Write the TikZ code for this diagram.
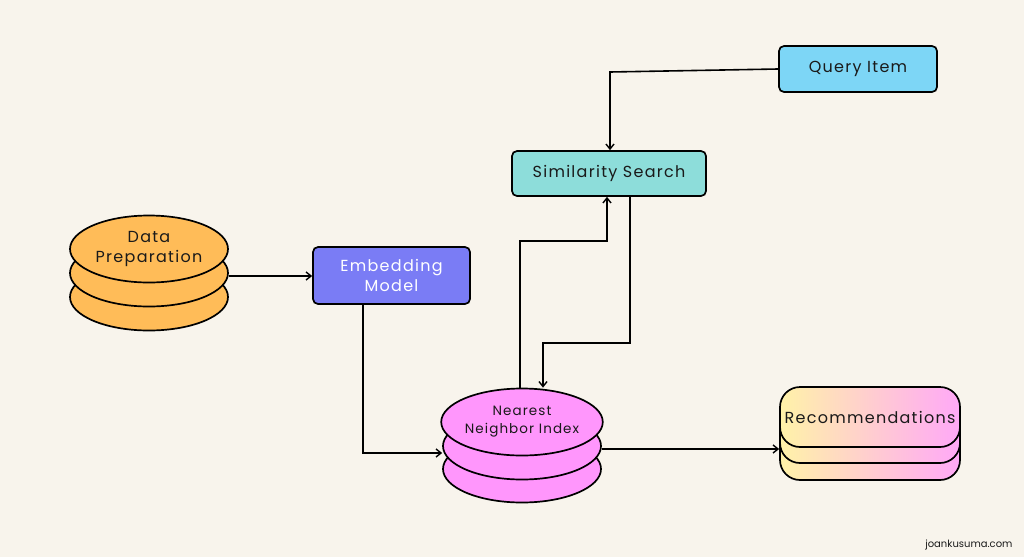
\documentclass[tikz,border=0pt]{standalone}
\usepackage{fontspec}
\setmainfont[LetterSpace=8]{Poppins}
\usetikzlibrary{shapes.geometric,arrows.meta}
\definecolor{bg}{HTML}{F8F4EC}
\definecolor{dpcol}{HTML}{FFBC58}
\definecolor{embcol}{HTML}{7A7CF5}
\definecolor{nncol}{HTML}{FF96FC}
\definecolor{simcol}{HTML}{8DDDDA}
\definecolor{qcol}{HTML}{7DD6F6}
\definecolor{recl}{HTML}{FFF2A8}
\definecolor{recr}{HTML}{FFA8F7}
\definecolor{ink}{HTML}{1A1A1A}
\tikzset{
  disk/.style={ellipse, draw=black, line width=1.7pt, minimum width=158pt, minimum height=67pt, inner sep=0pt, align=center},
  box/.style={rectangle, rounded corners=5pt, draw=black, line width=1.7pt, inner sep=0pt, align=center, text=ink},
  recbox/.style={rectangle, rounded corners=20pt, draw=black, line width=1.7pt, minimum width=180pt, minimum height=60pt, inner sep=0pt, left color=recl, right color=recr},
  conn/.style={line width=1.6pt, -{Straight Barb[length=5pt,width=8pt,line width=1.4pt]}},
  lbl/.style={font=\fontsize{16}{20}\selectfont}
}
\begin{document}
\begin{tikzpicture}[x=1pt,y=-1pt]
\fill[bg] (0,0) rectangle (1024,557);
\useasboundingbox (0,0) rectangle (1024,557);
% Data preparation stack
\node[disk, fill=dpcol] (dp3) at (149,297) {};
\node[disk, fill=dpcol] (dp2) at (149,273) {};
\node[disk, fill=dpcol, lbl, text=ink] (dp1) at (149,249) {Data\\Preparation};
% Embedding model
\node[box, fill=embcol, minimum width=157pt, minimum height=57pt, text=white, lbl] (emb) at (391.5,275.5) {Embedding\\Model};
% Nearest neighbor stack
\node[disk, fill=nncol] (nn3) at (522,469) {};
\node[disk, fill=nncol] (nn2) at (522,446) {};
\node[disk, fill=nncol, text=ink, font=\fontsize{13.5}{18}\selectfont] (nn1) at (522,422) {Nearest\\Neighbor Index};
% Recommendations stack
\node[recbox] (rec3) at (870,450) {};
\node[recbox] (rec2) at (870,433) {};
\node[recbox, lbl, text=ink] (rec1) at (870,417) {Recommendations};
% Similarity search
\node[box, fill=simcol, minimum width=194pt, minimum height=45pt, lbl] (sim) at (609,173.5) {Similarity Search};
% Query item
\node[box, fill=qcol, minimum width=158pt, minimum height=46pt, lbl] (query) at (858,69) {Query Item};
% connectors
\draw[conn] (dp2.east |- 0,276) -- (emb.west |- 0,276);
\coordinate (e1) at (363,453);
\draw[conn] (emb.south -| e1) -- (e1) -- (e1 -| nn2.west);
\draw[conn] (nn2.east |- 0,449) -- (rec2.west |- 0,449);
\coordinate (q1) at (610,72);
\draw[conn] (query.west) -- (q1) -- (q1 |- sim.north);
\coordinate (u1) at (520,241);
\coordinate (u2) at (607,241);
\draw[conn] (u1 |- nn1.north) -- (u1) -- (u2) -- (u2 |- sim.south);
\coordinate (d1) at (630,343);
\coordinate (d2) at (543,343);
\draw[conn] (d1 |- sim.south) -- (d1) -- (d2) -- (d2 |- nn1.north);
% watermark
\node[font=\fontsize{10}{12}\selectfont\addfontfeature{LetterSpace=0}, text=ink, anchor=east] (wm) at (1016,545) {joankusuma.com};
\end{tikzpicture}
\end{document}
